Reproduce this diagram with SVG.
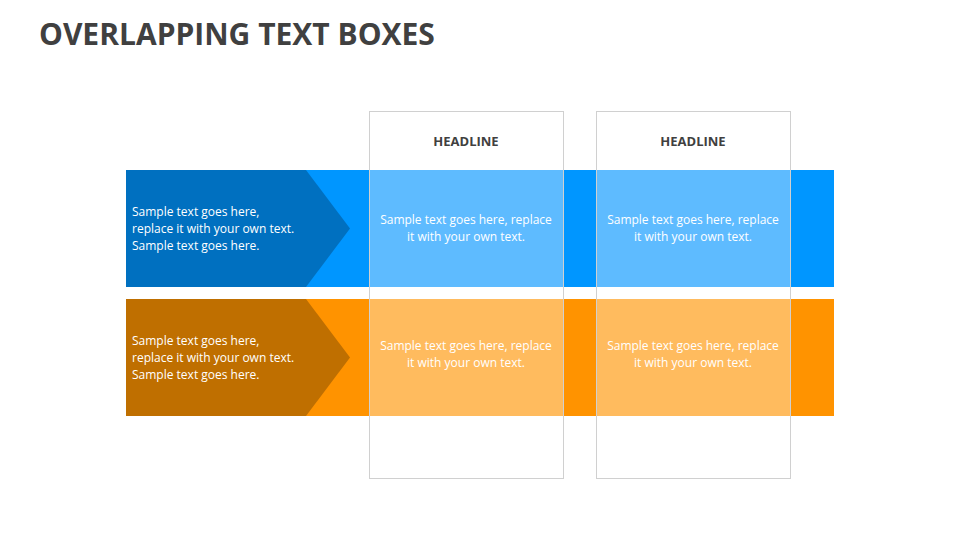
<svg xmlns="http://www.w3.org/2000/svg" width="960" height="540" viewBox="0 0 960 540">
<style>
text{font-family:"Open Sans","Liberation Sans",sans-serif}
.t{fill:#fff;font-size:12px}
.c{text-anchor:middle}
.h{fill:#404040;font-size:13px;font-weight:bold;text-anchor:middle}
.col{fill:none;stroke:#d0d0d0;stroke-width:1}
</style>
<rect width="960" height="540" fill="#fff"/>
<text x="39" y="45" font-size="30" font-weight="bold" fill="#404040">OVERLAPPING TEXT BOXES</text>
<g id="row1">
<rect x="126" y="170" width="708" height="117" fill="#0096FF"/>
<polygon points="126,170 306,170 350,228.5 306,287 126,287" fill="#0070C0"/>
<text class="t" x="132" y="216">Sample text goes here,</text>
<text class="t" x="132" y="233">replace it with your own text.</text>
<text class="t" x="132" y="250">Sample text goes here.</text>
</g>
<g id="row2">
<rect x="126" y="299" width="708" height="117" fill="#FF9300"/>
<polygon points="126,299 306,299 350,357.5 306,416 126,416" fill="#BF6F00"/>
<text class="t" x="132" y="345">Sample text goes here,</text>
<text class="t" x="132" y="362">replace it with your own text.</text>
<text class="t" x="132" y="379">Sample text goes here.</text>
</g>
<g id="col1">
<rect x="369.5" y="111.5" width="194" height="367" fill="#fff" fill-opacity="0" class="col"/>
<rect x="370" y="170" width="193" height="117" fill="#5EBBFF"/>
<rect x="370" y="299" width="193" height="117" fill="#FFBB5E"/>
<rect x="369.5" y="111.5" width="194" height="367" class="col"/>
<text class="h" x="466" y="146">HEADLINE</text>
<text class="t c" x="466" y="224">Sample text goes here, replace</text>
<text class="t c" x="466" y="241">it with your own text.</text>
<text class="t c" x="466" y="350">Sample text goes here, replace</text>
<text class="t c" x="466" y="367">it with your own text.</text>
</g>
<g id="col2">
<rect x="597" y="170" width="193" height="117" fill="#5EBBFF"/>
<rect x="597" y="299" width="193" height="117" fill="#FFBB5E"/>
<rect x="596.5" y="111.5" width="194" height="367" class="col"/>
<text class="h" x="693" y="146">HEADLINE</text>
<text class="t c" x="693" y="224">Sample text goes here, replace</text>
<text class="t c" x="693" y="241">it with your own text.</text>
<text class="t c" x="693" y="350">Sample text goes here, replace</text>
<text class="t c" x="693" y="367">it with your own text.</text>
</g>
<g id="connectors"/>
</svg>
